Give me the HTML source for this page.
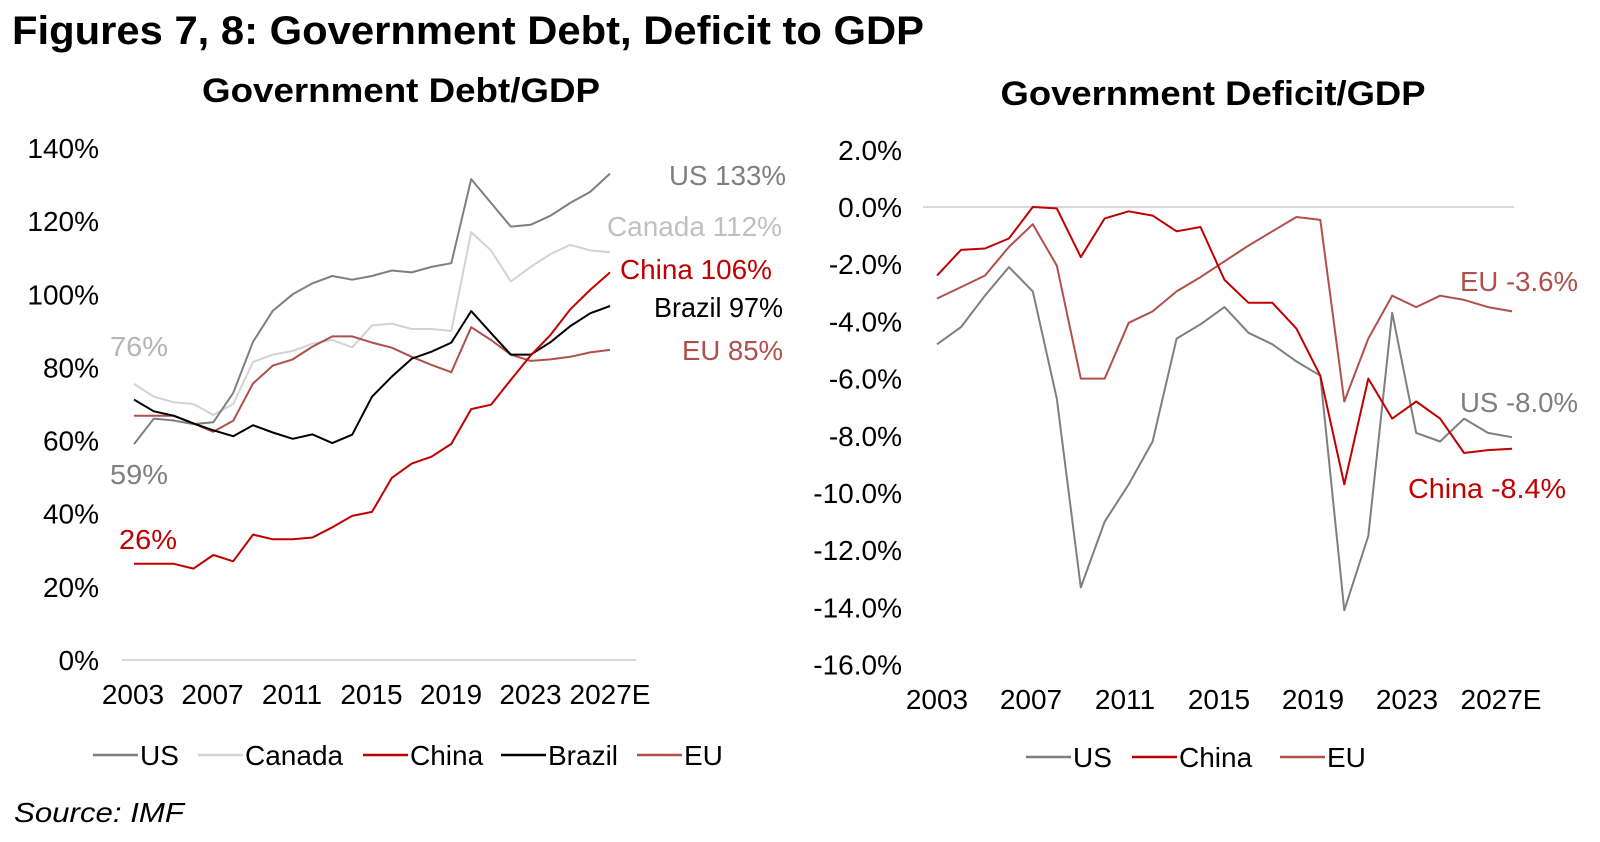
<!DOCTYPE html>
<html><head><meta charset="utf-8"><style>
body{margin:0;background:#fff;width:1600px;height:842px;overflow:hidden}
svg{display:block;font-family:"Liberation Sans",Arial,sans-serif}
</style></head><body>
<svg id="s" width="1600" height="842" viewBox="0 0 1600 842">
<text x="12" y="44" font-size="40" font-weight="bold" textLength="912" lengthAdjust="spacingAndGlyphs">Figures 7, 8: Government Debt, Deficit to GDP</text>
<text x="401" y="102" font-size="34" font-weight="bold" text-anchor="middle" textLength="398" lengthAdjust="spacingAndGlyphs">Government Debt/GDP</text>
<text x="1213" y="105" font-size="34" font-weight="bold" text-anchor="middle" textLength="425" lengthAdjust="spacingAndGlyphs">Government Deficit/GDP</text>
<text x="14" y="822" font-size="28" font-style="italic" textLength="170" lengthAdjust="spacingAndGlyphs">Source: IMF</text>
<g id="left"></g>
<g id="right"></g>
</svg>
<script>
const years=[2003,2004,2005,2006,2007,2008,2009,2010,2011,2012,2013,2014,2015,2016,2017,2018,2019,2020,2021,2022,2023,2024,2025,2026,2027];
const yearTicks=["2003","2007","2011","2015","2019","2023","2027E"];
const debtTicks=[0,20,40,60,80,100,120,140];
const debtUS=[59,66,65.5,64.5,65,73,87,95.5,100,103,105,104,105,106.5,106,107.5,108.5,131.5,125,118.5,119,121.5,125,128,133];
const debtCanada=[75.5,72,70.5,70,67,70,81.5,83.5,84.5,86.5,87.5,85.5,91.5,92,90.5,90.5,90,117,112,103.5,107.5,111,113.5,112,111.5];
const debtChina=[26.3,26.3,26.3,25,28.7,27,34.3,33,33,33.5,36.3,39.4,40.5,49.8,53.7,55.6,59.1,68.6,69.8,76.6,83.3,88.9,95.9,101.2,106];
const debtBrazil=[71.2,68,66.8,64.7,62.8,61.2,64.2,62.2,60.5,61.7,59.3,61.6,72,77.5,82.4,84.3,86.8,95.4,89.4,83.5,83.5,86.9,91.3,94.8,96.8];
const debtEU=[66.8,66.8,66.8,64.7,62.4,65.4,75.6,80.5,82.2,85.7,88.5,88.5,86.8,85.4,82.9,80.7,78.7,91,87.5,83.5,81.8,82.2,82.9,84.1,84.8];
const defTicks=[2,0,-2,-4,-6,-8,-10,-12,-14,-16];
const defUS=[-4.8,-4.2,-3.1,-2.1,-2.95,-6.7,-13.3,-11.0,-9.7,-8.2,-4.6,-4.1,-3.5,-4.4,-4.8,-5.4,-5.9,-14.1,-11.5,-3.7,-7.9,-8.2,-7.4,-7.9,-8.05];
const defChina=[-2.4,-1.5,-1.45,-1.1,0,-0.05,-1.75,-0.4,-0.15,-0.3,-0.85,-0.7,-2.55,-3.35,-3.35,-4.25,-5.9,-9.7,-6.0,-7.4,-6.8,-7.4,-8.6,-8.5,-8.45];
const defEU=[-3.2,-2.8,-2.4,-1.4,-0.6,-2.05,-6.0,-6.0,-4.05,-3.65,-2.95,-2.45,-1.9,-1.35,-0.85,-0.35,-0.45,-6.8,-4.6,-3.1,-3.5,-3.1,-3.25,-3.5,-3.65];

const NS="http://www.w3.org/2000/svg";
function mk(p,t,a){const e=document.createElementNS(NS,t);for(const k in a)e.setAttribute(k,a[k]);p.appendChild(e);return e;}
function line(p,xs,ys,vals,col,name){
  const d=vals.map((v,i)=>(i?'L':'M')+xs(i).toFixed(1)+' '+ys(v).toFixed(1)).join(' ');
  const e=mk(p,'path',{d:d,fill:'none',stroke:col,'stroke-width':2,'stroke-linejoin':'round'});
  
  
}
function txt(p,x,y,s,size,col,anchor,name,len){
  const e=mk(p,'text',{x:x,y:y,'font-size':size,fill:col,'text-anchor':anchor});
  if(len){e.setAttribute('textLength',len);e.setAttribute('lengthAdjust','spacingAndGlyphs');}
  e.textContent=s;
  
  
  return e;
}
function legend(p,x,y,col,label,name){
  const g=mk(p,'g',{});
  
  
  mk(g,'line',{x1:x-47,y1:y,x2:x-2,y2:y,stroke:col,'stroke-width':2.5});
  const t=mk(g,'text',{x:x,y:y+10,'font-size':28});t.textContent=label;
}
const cUS='#7f7f7f',cCA='#d3d3d3',cCN='#c00000',cBR='#000000',cEU='#b0504b';

// LEFT
const L=document.getElementById('left');
const lx=i=>134+i*(610-134)/(years.length-1);
const ly=v=>660-v*3.657;
mk(L,'line',{x1:122,y1:660,x2:636,y2:660,stroke:'#d9d9d9','stroke-width':2});
debtTicks.forEach(v=>txt(L,99,ly(v)+10,v+'%',28,'#000','end','y-tick-label'));
yearTicks.forEach((s,i)=>txt(L,133+i*79.5,704,s,28,'#000','middle','x-tick-label'));
line(L,lx,ly,debtCanada,cCA,'canada-debt-line');
line(L,lx,ly,debtUS,cUS,'us-debt-line');
line(L,lx,ly,debtEU,cEU,'eu-debt-line');
line(L,lx,ly,debtBrazil,cBR,'brazil-debt-line');
line(L,lx,ly,debtChina,cCN,'china-debt-line');
txt(L,786,185,'US 133%',28,cUS,'end','us-end-label',117);
txt(L,782,236,'Canada 112%',28,'#c0c0c0','end','canada-end-label',175);
txt(L,772,279,'China 106%',28,cCN,'end','china-end-label',152);
txt(L,783,317,'Brazil 97%',28,cBR,'end','brazil-end-label',129);
txt(L,783,360,'EU 85%',28,cEU,'end','eu-end-label',101);
txt(L,110,356,'76%',28,'#b5b5b5','start','canada-start-label',58);
txt(L,110,484,'59%',28,cUS,'start','us-start-label',58);
txt(L,119,549,'26%',28,cCN,'start','china-start-label',58);
legend(L,140,755,cUS,'US','legend-us');
legend(L,245,755,cCA,'Canada','legend-canada');
legend(L,410,755,cCN,'China','legend-china');
legend(L,548,755,cBR,'Brazil','legend-brazil');
legend(L,684,755,cEU,'EU','legend-eu');

// RIGHT
const R=document.getElementById('right');
const rx=i=>937+i*(1512-937)/(years.length-1);
const ry=v=>207-v*28.6;
mk(R,'line',{x1:923,y1:ry(0),x2:1514,y2:ry(0),stroke:'#d9d9d9','stroke-width':2});
defTicks.forEach(v=>txt(R,902,ry(v)+10,v.toFixed(1)+'%',28,'#000','end','y-tick-label'));
yearTicks.forEach((s,i)=>txt(R,937+i*94,709,s,28,'#000','middle','x-tick-label'));
line(R,rx,ry,defEU,cEU,'eu-deficit-line');
line(R,rx,ry,defUS,cUS,'us-deficit-line');
line(R,rx,ry,defChina,cCN,'china-deficit-line');
txt(R,1578,291,'EU -3.6%',28,cEU,'end','eu-end-label',118);
txt(R,1578,412,'US -8.0%',28,cUS,'end','us-end-label',118);
txt(R,1566,498,'China  -8.4%',28,cCN,'end','china-end-label',158);
legend(R,1073,757,cUS,'US','legend-us');
legend(R,1179,757,cCN,'China','legend-china');
legend(R,1327,757,cEU,'EU','legend-eu');
</script>
</body></html>
